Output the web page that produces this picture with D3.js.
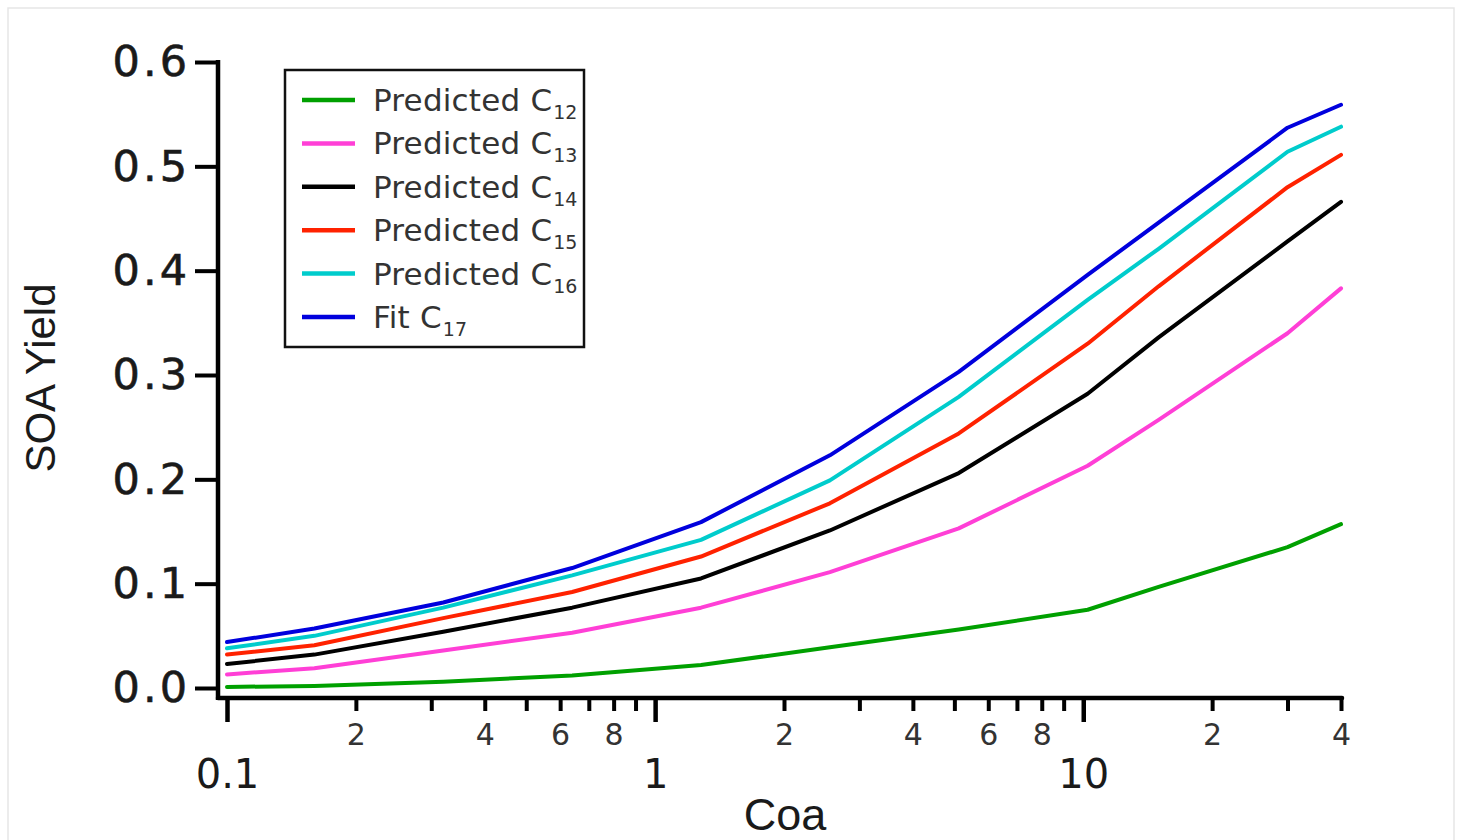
<!DOCTYPE html>
<html>
<head>
<meta charset="utf-8">
<script src="https://cdn.jsdelivr.net/npm/d3@7"></script>
<style>
  body { margin: 0; background: #fff; }
  svg { display: block; }
</style>
</head>
<body>
<div class="chart"></div>
<script>
  // Coa values (x) where the curves have vertices
  const coa = [0.1, 0.16, 0.32, 0.64, 1.28, 2.56, 5.12, 10.24, 15, 30, 40];

  const c12 = [0.001, 0.002, 0.006, 0.012, 0.022, 0.039, 0.056, 0.075, 0.097, 0.135, 0.157];
  const c13 = [0.013, 0.019, 0.036, 0.053, 0.077, 0.111, 0.153, 0.213, 0.257, 0.340, 0.383];
  const c14 = [0.023, 0.032, 0.054, 0.077, 0.105, 0.151, 0.206, 0.282, 0.336, 0.428, 0.466];
  const c15 = [0.032, 0.041, 0.067, 0.092, 0.126, 0.177, 0.244, 0.330, 0.385, 0.480, 0.511];
  const c16 = [0.038, 0.050, 0.077, 0.108, 0.142, 0.199, 0.279, 0.372, 0.421, 0.514, 0.538];
  const c17 = [0.044, 0.057, 0.082, 0.115, 0.159, 0.223, 0.303, 0.396, 0.446, 0.537, 0.559];

  const seriesNames = ["Predicted C", "Predicted C", "Predicted C", "Predicted C", "Predicted C", "Fit C"];
  const seriesSubs = ["12", "13", "14", "15", "16", "17"];
  const seriesColors = ["#00a000", "#ff3fd6", "#000000", "#ff2200", "#00cccc", "#0000dd"];
  const seriesValues = [c12, c13, c14, c15, c16, c17];

  const yTicks = [0, 0.1, 0.2, 0.3, 0.4, 0.5, 0.6];
  const xMajorTicks = [0.1, 1, 10];
  const xMinorTicks = [0.2, 0.3, 0.4, 0.5, 0.6, 0.7, 0.8, 0.9, 2, 3, 4, 5, 6, 7, 8, 9, 20, 30, 40];
  const xMinorLabels = [0.2, 0.4, 0.6, 0.8, 2, 4, 6, 8, 20, 40];

  const width = 1460;
  const height = 840;

  const svg = d3.select(".chart")
    .append("svg")
    .attr("width", width)
    .attr("height", height);

  // faint outer frame
  svg.append("rect")
    .attr("x", 8).attr("y", 8)
    .attr("width", 1446).attr("height", 840)
    .attr("fill", "none")
    .attr("stroke", "#e6e6e6")
    .attr("stroke-width", 1.5);

  const x = d3.scaleLog()
    .domain([0.1, 40])
    .range([227, 1341]);

  const y = d3.scaleLinear()
    .domain([0, 0.6])
    .range([688, 62]);

  const axisY = 698;
  const axisX = 218;

  // y axis
  const gy = svg.append("g")
    .attr("transform", `translate(${axisX},0)`)
    .call(d3.axisLeft(y).tickValues(yTicks).tickFormat(d3.format(".1f")).tickSize(23).tickPadding(5));
  gy.select(".domain").remove();
  gy.selectAll(".tick line").attr("stroke", "#000").attr("stroke-width", 4);
  gy.selectAll(".tick text")
    .attr("font-family", "DejaVu Sans, sans-serif")
    .attr("font-size", "43px")
    .attr("letter-spacing", "3px")
    .attr("stroke", "#1a1a1a")
    .attr("stroke-width", 0.6)
    .attr("fill", "#1a1a1a");

  svg.append("line")
    .attr("x1", axisX).attr("x2", axisX)
    .attr("y1", y(0.6) - 2).attr("y2", axisY + 2)
    .attr("stroke", "#000").attr("stroke-width", 4.5);

  // x axis: minor ticks
  const gxMinor = svg.append("g")
    .attr("transform", `translate(0,${axisY})`)
    .call(d3.axisBottom(x).tickValues(xMinorTicks)
      .tickFormat(d => xMinorLabels.includes(d) ? String(d).replace(/^0\./, "").replace(/0$/, "") : "")
      .tickSize(13).tickPadding(13));
  gxMinor.select(".domain").remove();
  gxMinor.selectAll(".tick line").attr("stroke", "#000").attr("stroke-width", 4);
  gxMinor.selectAll(".tick text")
    .attr("font-family", "DejaVu Sans, sans-serif")
    .attr("font-size", "30px")
    .attr("fill", "#333");

  // x axis: major ticks
  const gxMajor = svg.append("g")
    .attr("transform", `translate(0,${axisY})`)
    .call(d3.axisBottom(x).tickValues(xMajorTicks).tickFormat(d => d === 0.1 ? "0.1" : String(d))
      .tickSize(24).tickPadding(38));
  gxMajor.select(".domain").remove();
  gxMajor.selectAll(".tick line").attr("stroke", "#000").attr("stroke-width", 4.5);
  gxMajor.selectAll(".tick text")
    .attr("font-family", "DejaVu Sans, sans-serif")
    .attr("font-size", "40px")
    .attr("fill", "#1a1a1a");

  svg.append("line")
    .attr("x1", axisX).attr("x2", x(40) + 1)
    .attr("y1", axisY).attr("y2", axisY)
    .attr("stroke", "#000").attr("stroke-width", 4.5)
    .attr("stroke-linecap", "round");

  // axis titles
  svg.append("text")
    .attr("x", 785).attr("y", 830)
    .attr("text-anchor", "middle")
    .attr("font-family", "Liberation Sans, Arial, sans-serif")
    .attr("font-size", "45px")
    .attr("fill", "#1a1a1a")
    .text("Coa");

  svg.append("text")
    .attr("transform", "translate(55,378) rotate(-90)")
    .attr("text-anchor", "middle")
    .attr("font-family", "Liberation Sans, Arial, sans-serif")
    .attr("font-size", "42px")
    .attr("fill", "#1a1a1a")
    .text("SOA Yield");

  // lines
  const line = d3.line()
    .x((d, i) => x(coa[i]))
    .y(d => y(d));

  svg.selectAll(".series")
    .data(seriesValues)
    .enter()
    .append("path")
    .attr("class", "series")
    .attr("d", d => line(d))
    .attr("fill", "none")
    .attr("stroke", (d, i) => seriesColors[i])
    .attr("stroke-width", 4)
    .attr("stroke-linejoin", "round")
    .attr("stroke-linecap", "round");

  // legend
  const legend = svg.append("g");
  legend.append("rect")
    .attr("x", 285).attr("y", 70)
    .attr("width", 299).attr("height", 277)
    .attr("fill", "#fff")
    .attr("stroke", "#111")
    .attr("stroke-width", 2.5);

  const rows = legend.selectAll(".leg")
    .data(seriesNames)
    .enter()
    .append("g")
    .attr("class", "leg")
    .attr("transform", (d, i) => `translate(0,${100 + i * 43.4})`);

  rows.append("line")
    .attr("x1", 302).attr("x2", 355)
    .attr("y1", 0).attr("y2", 0)
    .attr("stroke", (d, i) => seriesColors[i])
    .attr("stroke-width", 4.5);

  const txt = rows.append("text")
    .attr("x", 373).attr("y", 11)
    .attr("font-family", "DejaVu Sans, sans-serif")
    .attr("font-size", "31px")
    .attr("letter-spacing", "0.2px")
    .attr("fill", "#333");
  txt.append("tspan").text(d => d);
  txt.append("tspan")
    .attr("font-size", "19px")
    .attr("letter-spacing", "0px")
    .attr("dx", 1)
    .attr("dy", 8)
    .text((d, i) => seriesSubs[i]);
</script>
</body>
</html>
